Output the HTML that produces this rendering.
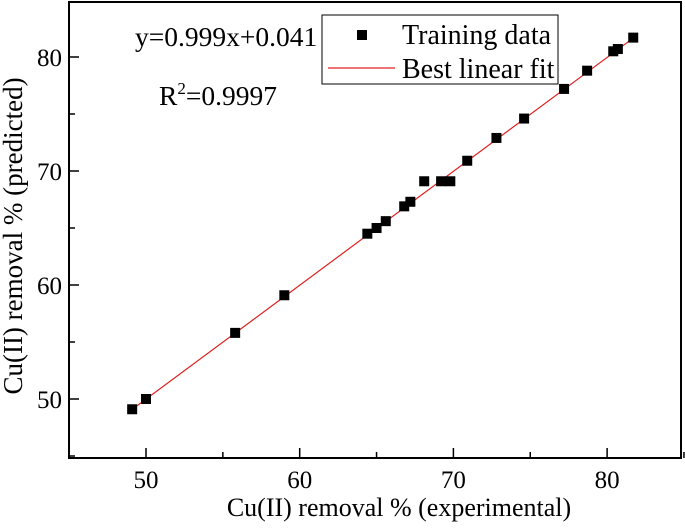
<!DOCTYPE html>
<html><head><meta charset="utf-8"><style>
body{margin:0;background:#fff}
svg text{font-family:"Liberation Serif",serif;fill:#000}
</style></head><body>
<svg id="c" width="685" height="523" xmlns="http://www.w3.org/2000/svg">
<rect x="69" y="2" width="612" height="456" fill="none" stroke="#000" stroke-width="2"/>
<g id="ticks"></g>
<line id="fit" stroke="#e02020" stroke-width="1.2"/>
<g id="pts"></g>
<text x="135" y="46" font-size="27.5">y=0.999x+0.041</text>
<text x="159" y="105" font-size="27.5">R<tspan dy="-11" font-size="17">2</tspan><tspan dy="11">=0.9997</tspan></text>
<g>
<rect x="322" y="15" width="236" height="69" fill="#fff" stroke="#000" stroke-width="1"/>
<rect x="357" y="30" width="10" height="10" fill="#000"/>
<text x="402" y="44" font-size="28">Training data</text>
<line x1="328" y1="68" x2="395" y2="68" stroke="#e02020" stroke-width="1.2"/>
<text x="402" y="78" font-size="28">Best linear fit</text>
</g>
<text x="399" y="516" font-size="26" text-anchor="middle">Cu(II) removal % (experimental)</text>
<text transform="translate(22,236) rotate(-90)" font-size="27" text-anchor="middle">Cu(II) removal % (predicted)</text>
</svg>
<script>
const expX=[49.1,50,55.8,59,64.4,65,65.6,66.8,67.2,68.1,69.2,69.8,70.9,72.8,74.6,77.2,78.7,80.4,80.7,81.7];
const predY=[49.1,50,55.8,59.1,64.5,65,65.6,66.9,67.3,69.1,69.1,69.1,70.9,72.9,74.6,77.2,78.8,80.5,80.7,81.7];
const xTicks=[50,60,70,80];
const yTicks=[50,60,70,80];
const fitSlope=0.999, fitIntercept=0.041;
const sx=v=>146+(v-50)*15.37;
const sy=v=>399-(v-50)*11.4;
const NS="http://www.w3.org/2000/svg";
const tg=document.getElementById('ticks');
function ln(x1,y1,x2,y2){const l=document.createElementNS(NS,'line');l.setAttribute('x1',x1);l.setAttribute('y1',y1);l.setAttribute('x2',x2);l.setAttribute('y2',y2);l.setAttribute('stroke','#000');l.setAttribute('stroke-width','1.5');tg.appendChild(l);return l;}
function tx(x,y,s,a){const t=document.createElementNS(NS,'text');t.setAttribute('x',x);t.setAttribute('y',y);t.setAttribute('font-size','25');t.setAttribute('text-anchor',a);t.textContent=s;tg.appendChild(t);return t;}
xTicks.forEach(v=>{const l=ln(sx(v),458,sx(v),448);


const m=ln(sx(v+5),458,sx(v+5),452);


const t=tx(sx(v),488,String(v),'middle');

});
yTicks.forEach(v=>{const l=ln(69,sy(v),79,sy(v));


const m=ln(69,sy(v-5),75,sy(v-5));


const t=tx(62,sy(v)+9,String(v),'end');

});
const f=document.getElementById('fit');
f.setAttribute('x1',sx(49.1));f.setAttribute('y1',sy(49.1*fitSlope+fitIntercept));
f.setAttribute('x2',sx(81.8));f.setAttribute('y2',sy(81.8*fitSlope+fitIntercept));
const pg=document.getElementById('pts');
expX.forEach((x,i)=>{const r=document.createElementNS(NS,'rect');
r.setAttribute('x',sx(x)-5);r.setAttribute('y',sy(predY[i])-5);r.setAttribute('width',10);r.setAttribute('height',10);r.setAttribute('fill','#000');


pg.appendChild(r);});
</script>
</body></html>
